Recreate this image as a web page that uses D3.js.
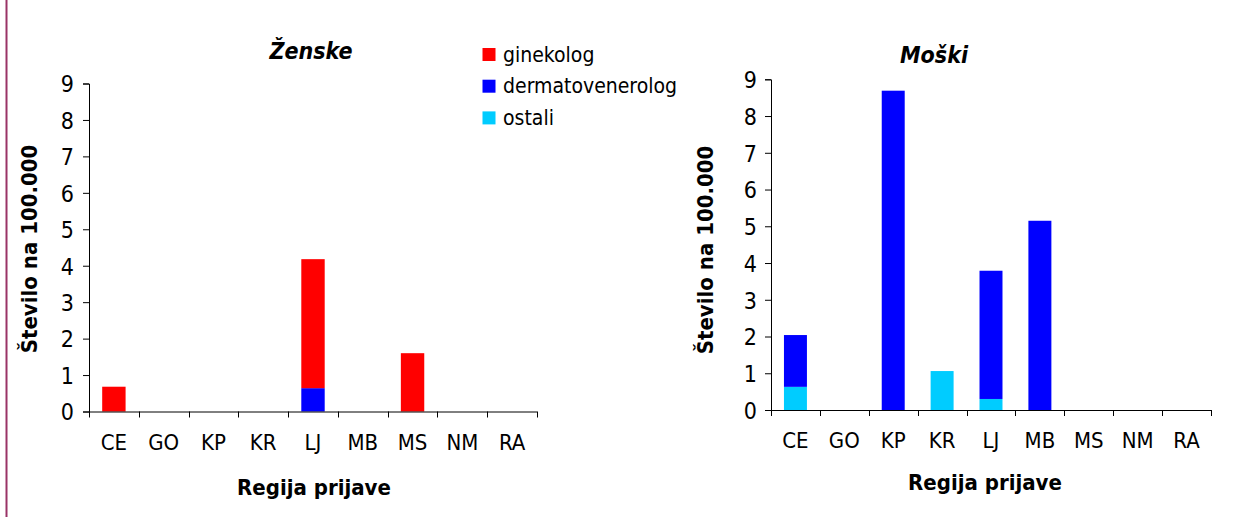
<!DOCTYPE html>
<html>
<head>
<meta charset="utf-8">
<script src="https://cdn.jsdelivr.net/npm/d3@7"></script>
<style>
  html, body { margin: 0; padding: 0; background: #fff; }
  svg { display: block; }
  text { font-family: "DejaVu Sans Condensed", "DejaVu Sans", sans-serif; font-stretch: condensed; fill: #000; }
</style>
</head>
<body>
<svg id="chart" width="1247" height="517"></svg>
<script>
// Regions of notification
const regions = ["CE", "GO", "KP", "KR", "LJ", "MB", "MS", "NM", "RA"];

// Reporting specialist groups (stacked bottom to top: ostali, dermatovenerolog, ginekolog)
const seriesNames = ["ostali", "dermatovenerolog", "ginekolog"];
const seriesColors = ["#00CCFF", "#0000FF", "#FF0000"];
const legendOrder = ["ginekolog", "dermatovenerolog", "ostali"];

// Rates per 100 000 – women
const zenskeOstali   = [0, 0, 0, 0, 0,    0, 0,   0, 0];
const zenskeDermato  = [0, 0, 0, 0, 0.64, 0, 0,   0, 0];
const zenskeGinekol  = [0.68, 0, 0, 0, 3.54, 0, 1.6, 0, 0];

// Rates per 100 000 – men
const moskiOstali    = [0.63, 0, 0,    1.06, 0.30, 0,    0, 0, 0];
const moskiDermato   = [1.41, 0, 8.69, 0,    3.49, 5.15, 0, 0, 0];
const moskiGinekol   = [0,    0, 0,    0,    0,    0,    0, 0, 0];

const yTicks = [0, 1, 2, 3, 4, 5, 6, 7, 8, 9];

const svg = d3.select("#chart");

// thin frame line on the left edge
svg.append("line")
  .attr("x1", 6.5).attr("x2", 6.5).attr("y1", 0).attr("y2", 517)
  .attr("stroke", "#993366").attr("stroke-width", 2);

function buildRows(ost, der, gin) {
  return regions.map((r, i) => ({ region: r, ostali: ost[i], dermatovenerolog: der[i], ginekolog: gin[i] }));
}

function drawPanel(opt) {
  const g = svg.append("g");
  const x = d3.scaleBand().domain(regions).range([opt.x0, opt.x1]);
  const y = d3.scaleLinear().domain([0, 9]).range([opt.y0, opt.y1]);
  const stack = d3.stack().keys(seriesNames)(opt.rows);
  const bw = x.bandwidth() * 0.47;

  // stacked bars
  stack.forEach((layer, li) => {
    g.append("g").attr("fill", seriesColors[li])
      .selectAll("rect")
      .data(layer.filter(d => d[1] - d[0] > 0))
      .join("rect")
      .attr("x", d => x(d.data.region) + (x.bandwidth() - bw) / 2)
      .attr("width", bw)
      .attr("y", d => y(d[1]))
      .attr("height", d => y(d[0]) - y(d[1]));
  });

  // y axis
  const ya = g.append("g").attr("transform", `translate(${opt.x0},0)`)
    .call(d3.axisLeft(y).tickValues(yTicks).tickFormat(d3.format("d")).tickSize(6).tickPadding(opt.tickPad));
  ya.select(".domain").attr("stroke", "#000");
  ya.selectAll(".tick line").attr("stroke", "#000");
  ya.selectAll(".tick text").style("font-size", "23px").attr("dy", "0.36em");

  // x axis line with ticks at category boundaries
  const xa = g.append("g");
  xa.append("line").attr("x1", opt.x0).attr("x2", opt.x1)
    .attr("y1", opt.y0 + 0.5).attr("y2", opt.y0 + 0.5).attr("stroke", "#000");
  const bounds = regions.map(r => x(r)).concat([opt.x1]);
  xa.selectAll("line.b").data(bounds).join("line").attr("class", "b")
    .attr("x1", d => Math.round(d) + 0.5).attr("x2", d => Math.round(d) + 0.5)
    .attr("y1", opt.y0).attr("y2", opt.y0 + 6).attr("stroke", "#000");
  xa.selectAll("text").data(regions).join("text")
    .attr("x", d => x(d) + x.bandwidth() / 2)
    .attr("y", opt.catY)
    .attr("text-anchor", "middle")
    .style("font-size", "22px")
    .text(d => d);

  // titles
  g.append("text").attr("x", opt.titleX).attr("y", opt.titleY)
    .attr("text-anchor", "middle")
    .style("font-size", "23px").style("font-weight", "bold").style("font-style", "italic")
    .text(opt.title);
  g.append("text").attr("x", opt.xTitleX).attr("y", opt.xTitleY)
    .attr("text-anchor", "middle")
    .style("font-size", "22px").style("font-weight", "bold")
    .text("Regija prijave");
  g.append("text")
    .attr("transform", `translate(${opt.yTitleX},${opt.yTitleY}) rotate(-90)`)
    .attr("text-anchor", "middle")
    .style("font-size", "22px").style("font-weight", "bold")
    .text("Število na 100.000");
}

drawPanel({
  rows: buildRows(zenskeOstali, zenskeDermato, zenskeGinekol),
  x0: 89, x1: 537, y0: 411.5, y1: 83.5, tickPad: 9,
  catY: 450, title: "Ženske", titleX: 311, titleY: 59,
  xTitleX: 314, xTitleY: 495, yTitleX: 37, yTitleY: 249
});

drawPanel({
  rows: buildRows(moskiOstali, moskiDermato, moskiGinekol),
  x0: 771, x1: 1211, y0: 410, y1: 79.3, tickPad: 8,
  catY: 448, title: "Moški", titleX: 934, titleY: 63,
  xTitleX: 985, xTitleY: 490, yTitleX: 713, yTitleY: 250
});

// legend
const legend = svg.append("g");
legendOrder.forEach((name, i) => {
  const cy = 54.5 + i * 31.7;
  legend.append("rect").attr("x", 482.5).attr("y", cy - 6.5).attr("width", 13).attr("height", 13)
    .attr("fill", seriesColors[seriesNames.indexOf(name)]);
  legend.append("text").attr("x", 503).attr("y", cy + 7)
    .style("font-size", "21px").text(name);
});
</script>
</body>
</html>
